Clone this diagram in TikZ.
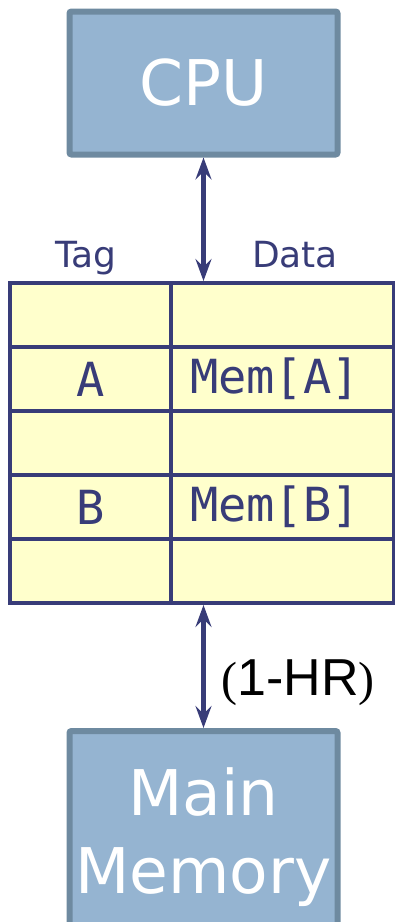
\documentclass[tikz,border=0pt]{standalone}
\usepackage{fontspec}
\setmainfont{DejaVu Sans}
\newfontfamily\monofont{DejaVu Sans Mono}
\newfontfamily\arialfont{Liberation Sans}
\newfontfamily\timesfont{Liberation Serif}
\usetikzlibrary{arrows.meta}
\definecolor{boxfill}{HTML}{95B4D1}
\definecolor{boxline}{HTML}{6E8AA0}
\definecolor{navy}{HTML}{383C78}
\definecolor{cellfill}{HTML}{FFFFCC}
\begin{document}
\begin{tikzpicture}[x=1pt, y=-1pt]
            \useasboundingbox (0,0) rectangle (395,922);
            \clip (0,0) rectangle (395,922);
            \begin{scope}[
                    unit/.style={rectangle, draw=boxline, fill=boxfill, line width=6pt,
                        rounded corners=2pt, minimum width=268pt, text=white,
                        font=\fontsize{63}{78}\selectfont, inner sep=0pt},
                    cell/.style={rectangle, draw=navy, fill=cellfill, line width=4pt,
                        minimum height=64pt, text=navy, inner sep=0pt,
                        font=\monofont\fontsize{47}{50}\selectfont},
                    tagcell/.style={cell, minimum width=161pt},
                    datacell/.style={cell, minimum width=223pt, text width=185pt, align=left},
                    head/.style={text=navy, font=\fontsize{36}{40}\selectfont, anchor=base},
                    link/.style={draw=navy, line width=4.5pt,
                        {Stealth[length=22pt, width=16pt, inset=8pt]}-{Stealth[length=22pt, width=16pt, inset=8pt]}}
                ]

                \node[unit, minimum height=143pt] (cpu) at (203.5,83) {CPU};

                \node[head] (tag) at (86,267) {Tag};
                \node[head] (data) at (295,267) {Data};

                \node[tagcell] (t1) at (90.5,315) {};
                \node[tagcell] (t2) at (90.5,379) {A};
                \node[tagcell] (t3) at (90.5,443) {};
                \node[tagcell] (t4) at (90.5,507) {B};
                \node[tagcell] (t5) at (90.5,571) {};
                \node[datacell] (d1) at (282.5,315) {};
                \node[datacell] (d2) at (282.5,379) {\raisebox{3pt}{Mem[A]}};
                \node[datacell] (d3) at (282.5,443) {};
                \node[datacell] (d4) at (282.5,507) {\raisebox{3pt}{Mem[B]}};
                \node[datacell] (d5) at (282.5,571) {};

                \node[unit, minimum height=212pt, align=center] (mem) at (203.5,837) {Main\\Memory};

                \node[font=\arialfont\fontsize{52}{56}\selectfont] (hr) at (298,683)
                    {{\timesfont\fontsize{48}{48}\selectfont(}1-HR{\timesfont\fontsize{48}{48}\selectfont)}};

                \draw[link] (cpu.south) -- (cpu.south |- d1.north);
                \draw[link] (cpu.south |- d5.south) -- (mem.north);
            \end{scope}
        \end{tikzpicture}
\end{document}
